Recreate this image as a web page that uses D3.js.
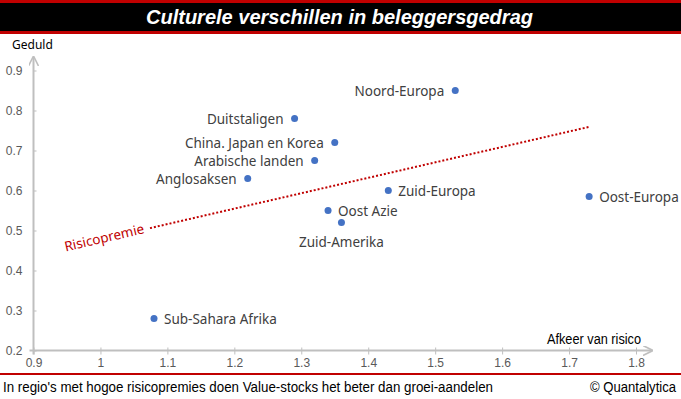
<!DOCTYPE html>
<html>
<head>
<meta charset="utf-8">
<script src="https://cdn.jsdelivr.net/npm/d3@7"></script>
<style>
  body { margin: 0; background: #fff; }
  svg { display: block; }
</style>
</head>
<body>
<div id="chart"></div>
<script>
// data
const regions = ['Noord-Europa', 'Duitstaligen', 'China. Japan en Korea', 'Arabische landen', 'Anglosaksen',
    'Zuid-Europa', 'Oost Azie', 'Zuid-Amerika', 'Oost-Europa', 'Sub-Sahara Afrika']
const afkeer = [1.53, 1.29, 1.35, 1.32, 1.22, 1.43, 1.34, 1.36, 1.73, 1.08]
const geduld = [0.85, 0.78, 0.72, 0.675, 0.63, 0.60, 0.55, 0.52, 0.585, 0.28]
const labelSide = ['left', 'left', 'left', 'left', 'left', 'right', 'right', 'below', 'right', 'right']
const trendX = [1.074, 1.73]
const trendY = [0.506, 0.759]
const xTicks = [0.9, 1, 1.1, 1.2, 1.3, 1.4, 1.5, 1.6, 1.7, 1.8]
const yTicks = [0.2, 0.3, 0.4, 0.5, 0.6, 0.7, 0.8, 0.9]

const cfg = {
    w: 681,
    h: 399,
    red: '#c00000',
    dot: '#4472c4',
    axis: '#bfbfbf',
    narrow: '"Liberation Sans Narrow", "Arial Narrow", "Liberation Sans", sans-serif',
    label: '"Noto Sans", "Open Sans", sans-serif'
}

const svg = d3.select('#chart')
    .append('svg')
    .attr('width', cfg.w)
    .attr('height', cfg.h)

// title bar
svg.append('rect').attr('x', 0).attr('y', 0).attr('width', cfg.w).attr('height', 34).attr('fill', cfg.red)
svg.append('rect').attr('x', 0).attr('y', 3).attr('width', cfg.w).attr('height', 28).attr('fill', '#000')
svg.append('text')
    .attr('x', 146).attr('y', 24)
    .attr('fill', '#fff')
    .attr('textLength', 387)
    .attr('lengthAdjust', 'spacingAndGlyphs')
    .style('font-family', cfg.narrow)
    .style('font-weight', 'bold')
    .style('font-style', 'italic')
    .style('font-size', '21px')
    .text('Culturele verschillen in beleggersgedrag')

let x = d3.scaleLinear().domain([0.9, 1.8]).range([33.5, 636])
let y = d3.scaleLinear().domain([0.2, 0.9]).range([350.5, 70.5])

const defs = svg.append('defs')
defs.append('marker')
    .attr('id', 'arrow')
    .attr('viewBox', '0 0 10 10')
    .attr('refX', 9).attr('refY', 5)
    .attr('markerWidth', 5).attr('markerHeight', 5)
    .attr('orient', 'auto')
    .append('path')
    .attr('d', 'M0,0 L10,5 L0,10')
    .attr('fill', 'none')
    .attr('stroke', cfg.axis)
    .attr('stroke-width', 1.6)

// X axis
const xAxis = svg.append('g')
    .attr('transform', `translate(0, ${y(0.2)})`)
    .call(d3.axisBottom(x).tickValues(xTicks).tickSize(4).tickSizeOuter(0).tickFormat(d3.format('')))
xAxis.select('.domain').remove()
xAxis.selectAll('.tick line').attr('stroke', cfg.axis).attr('y1', -3)
xAxis.selectAll('.tick text')
    .attr('fill', '#595959')
    .attr('dy', '0.71em')
    .attr('y', 8)
    .style('font-family', cfg.narrow)
    .style('font-size', '12px')
svg.append('line')
    .attr('x1', x(0.9) - 4).attr('x2', 652)
    .attr('y1', y(0.2)).attr('y2', y(0.2))
    .attr('stroke', cfg.axis).attr('stroke-width', 2)
    .attr('marker-end', 'url(#arrow)')

// Y axis
const yAxis = svg.append('g')
    .attr('transform', `translate(${x(0.9)}, 0)`)
    .call(d3.axisLeft(y).tickValues(yTicks).tickSize(4).tickSizeOuter(0).tickFormat(d3.format('')))
yAxis.select('.domain').remove()
yAxis.selectAll('.tick line').attr('stroke', cfg.axis).attr('x2', 3)
yAxis.selectAll('.tick text')
    .attr('fill', '#595959')
    .attr('x', -11)
    .style('font-family', cfg.narrow)
    .style('font-size', '12px')
svg.append('line')
    .attr('x1', x(0.9)).attr('x2', x(0.9))
    .attr('y1', y(0.2) + 4).attr('y2', 57)
    .attr('stroke', cfg.axis).attr('stroke-width', 2)
    .attr('marker-end', 'url(#arrow)')

// axis titles
svg.append('text')
    .attr('x', 12).attr('y', 49)
    .attr('fill', '#000')
    .style('font-family', cfg.label)
    .style('font-size', '12px')
    .text('Geduld')
svg.append('text')
    .attr('x', 641).attr('y', 344)
    .attr('text-anchor', 'end')
    .attr('fill', '#000')
    .attr('textLength', 94)
    .attr('lengthAdjust', 'spacingAndGlyphs')
    .style('font-family', cfg.narrow)
    .style('font-size', '14px')
    .text('Afkeer van risico')

// trend line
const trend = trendX.map((d, i) => ({ x: d, y: trendY[i] }))
let line = d3.line()
    .x(d => x(d.x))
    .y(d => y(d.y))
svg.append('path')
    .attr('d', line(trend))
    .attr('fill', 'none')
    .attr('stroke', cfg.red)
    .attr('stroke-width', 2)
    .attr('stroke-dasharray', '2,2')

const ang = Math.atan2(y(trendY[1]) - y(trendY[0]), x(trendX[1]) - x(trendX[0])) * 180 / Math.PI
svg.append('text')
    .attr('transform', `translate(${x(trendX[0]) - 5}, ${y(trendY[0]) + 5}) rotate(${ang})`)
    .attr('text-anchor', 'end')
    .attr('fill', cfg.red)
    .style('font-family', cfg.label)
    .style('font-size', '13.5px')
    .text('Risicopremie')

// points
const data = regions.map((name, i) => ({ name: name, x: afkeer[i], y: geduld[i], side: labelSide[i] }))

svg.selectAll('.dot')
    .data(data).enter()
    .append('circle')
    .attr('class', 'dot')
    .attr('cx', d => x(d.x))
    .attr('cy', d => y(d.y))
    .attr('r', 3.5)
    .attr('fill', cfg.dot)

svg.selectAll('.lbl')
    .data(data).enter()
    .append('text')
    .attr('class', 'lbl')
    .attr('x', d => d.side === 'left' ? x(d.x) - 11 : d.side === 'right' ? x(d.x) + 10 : x(d.x))
    .attr('y', d => d.side === 'below' ? y(d.y) + 24 : y(d.y) + 5)
    .attr('text-anchor', d => d.side === 'left' ? 'end' : d.side === 'right' ? 'start' : 'middle')
    .attr('fill', '#404040')
    .style('font-family', cfg.label)
    .style('font-size', '13.5px')
    .text(d => d.name)

// footer
svg.append('rect').attr('x', 0).attr('y', 373).attr('width', cfg.w).attr('height', 2).attr('fill', cfg.red)
svg.append('text')
    .attr('x', 3).attr('y', 392)
    .attr('fill', '#000')
    .attr('textLength', 490)
    .attr('lengthAdjust', 'spacingAndGlyphs')
    .style('font-family', cfg.narrow)
    .style('font-size', '14px')
    .text("In regio's met hogoe risicopremies doen Value-stocks het beter dan groei-aandelen")
svg.append('text')
    .attr('x', 676).attr('y', 392)
    .attr('text-anchor', 'end')
    .attr('fill', '#000')
    .attr('textLength', 86)
    .attr('lengthAdjust', 'spacingAndGlyphs')
    .style('font-family', cfg.narrow)
    .style('font-size', '14px')
    .text('© Quantalytica')
</script>
</body>
</html>
